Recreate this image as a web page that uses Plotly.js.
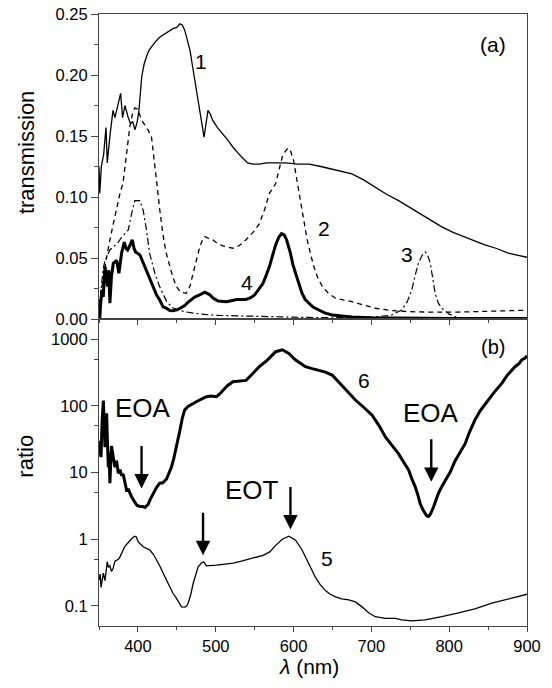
<!DOCTYPE html>
<html>
<head>
<meta charset="utf-8">
<script src="https://cdn.plot.ly/plotly-3.0.1.min.js"></script>
<style>html,body{margin:0;padding:0;background:#fff;}#chart{width:552px;height:688px;}</style>
</head>
<body>
<div id="chart"></div>
<script>
// ---- Panel (a): transmission ----
const wl1 = [350,351,353,356,359,360.6,364,368,370.5,372.6,374.8,377.8,380.3,383.3,387.6,390.6,393.2,396.2,399.2,401.3,405,408,411,414,417.5,422,428,433,437,441,445,450,454,457,460,463,467,470,473,477,480,483,485,487.5,490,493,496,502,509,515,522,530,541,548,556,565,577,590,605,620,635,645,660,675,690,705,720,735,748,760,775,790,805,820,833,845,860,876,890,900];
const trans1 = [0.125,0.103,0.125,0.135,0.157,0.128,0.150,0.171,0.165,0.171,0.176,0.185,0.165,0.175,0.165,0.160,0.162,0.155,0.162,0.171,0.199,0.209,0.215,0.220,0.223,0.227,0.231,0.233,0.235,0.236,0.238,0.239,0.242,0.241,0.237,0.230,0.220,0.208,0.196,0.182,0.171,0.157,0.149,0.160,0.171,0.168,0.163,0.157,0.152,0.147,0.141,0.135,0.128,0.127,0.127,0.128,0.128,0.128,0.127,0.127,0.125,0.1235,0.121,0.119,0.114,0.108,0.102,0.097,0.092,0.087,0.081,0.0757,0.071,0.067,0.064,0.061,0.058,0.054,0.052,0.0506];

const wl2 = [350,353,356,359,362,365,368.4,372.7,377,381,385.5,389.7,393,396,400,404.7,409,413,417.5,419.6,424,428,432,436,441,445,449.6,455,462,467,471,475,479.5,483,486,491,496,502,509,515,522,530,539,548,556,563,569,577,581,585.5,590,593,596,600,604,608.8,613,617.5,622,626,631,637,645,654,665,675,690,705,725,748,770,790.6,810,833,855,876,900];
const trans2 = [0.012,0.022,0.035,0.048,0.059,0.068,0.078,0.092,0.103,0.112,0.1385,0.158,0.168,0.173,0.172,0.163,0.159,0.155,0.149,0.1385,0.113,0.090,0.070,0.055,0.043,0.034,0.0265,0.022,0.021,0.027,0.0377,0.048,0.059,0.065,0.0675,0.066,0.065,0.062,0.060,0.059,0.058,0.060,0.065,0.071,0.078,0.090,0.103,0.111,0.122,0.133,0.138,0.140,0.138,0.130,0.115,0.0975,0.081,0.065,0.053,0.043,0.034,0.0265,0.021,0.017,0.0155,0.0142,0.0115,0.0088,0.007,0.006,0.0057,0.0055,0.0057,0.006,0.0065,0.0068,0.0072];

const wl3 = [350,352,355,357.7,364,370,374.8,379,383,387.6,392,396,402.6,406.8,411,415,421.8,428,437,445,460,480,500,550,600,650,700,725,739,746,752,756,760.6,765,769,772,775.6,779,782,786,790.6,800,812,850,900];
const trans3 = [0.005,0.02,0.04,0.048,0.0566,0.060,0.063,0.067,0.070,0.073,0.0866,0.097,0.097,0.089,0.073,0.054,0.0375,0.0265,0.0142,0.009,0.006,0.004,0.003,0.002,0.0015,0.001,0.0015,0.003,0.0074,0.014,0.024,0.035,0.046,0.052,0.055,0.053,0.046,0.033,0.021,0.013,0.0088,0.004,0.001,0.0005,0.0005];

const wl4 = [350,351,352,354,355.5,357.7,359.5,361,362.5,364,366,368.4,372.7,375.6,379,382.5,384.5,386.8,389.5,392.7,395,397,402.6,409,415.4,420,424,428,432.4,437,441,445,450,455,460,465,473,480,486,492,497,503,509,514,520,527,533,539,545,550,555,560.6,565,569,573,577,581,584.6,588,591,596,599,602.6,607,611,615,619.6,625,632.5,640,649.6,665,675,700,750,800,900];
const trans4 = [0.0,0.0,0.012,0.024,0.018,0.043,0.035,0.0265,0.040,0.013,0.035,0.0456,0.048,0.0375,0.054,0.063,0.058,0.0566,0.060,0.065,0.058,0.055,0.0525,0.043,0.032,0.0265,0.0197,0.0156,0.010,0.0087,0.007,0.0068,0.0075,0.009,0.011,0.014,0.018,0.020,0.022,0.020,0.017,0.0148,0.0142,0.0142,0.015,0.016,0.016,0.016,0.0175,0.0197,0.024,0.029,0.036,0.043,0.052,0.0607,0.067,0.070,0.069,0.065,0.054,0.045,0.0375,0.028,0.021,0.016,0.0128,0.0098,0.0074,0.005,0.0033,0.002,0.0016,0.001,0.0007,0.0005,0.0005];

// ---- Panel (b): ratio ----
const wl5 = [350,351.5,352.6,354,355.6,357.7,359,360.6,362,364,366,368,370.5,372.6,375,376.9,380,383,386,389.7,393,396,398,400.4,403,406.8,411,415.4,420,424,428,432.5,437,441,445,449.6,453,456,460.3,462.5,464.5,468,471,474,477.4,481.7,484.6,488,495,501,512,522.4,533,543.8,552,560.9,569.4,577,585.5,594,602.6,611,619.6,628,634,641,647,654,662,671,679.5,688,696.5,705,718,731,739,752,769,790.6,812,833,854.7,876,900];
const ratio5 = [0.244,0.30,0.19,0.26,0.31,0.24,0.33,0.46,0.38,0.40,0.33,0.36,0.47,0.49,0.50,0.545,0.65,0.77,0.85,0.97,1.05,1.11,1.08,0.91,0.85,0.77,0.73,0.69,0.59,0.49,0.40,0.31,0.24,0.19,0.155,0.13,0.108,0.097,0.096,0.10,0.11,0.15,0.217,0.29,0.385,0.44,0.46,0.40,0.40,0.41,0.425,0.44,0.47,0.51,0.54,0.575,0.646,0.81,1.0,1.11,0.97,0.69,0.43,0.27,0.21,0.17,0.15,0.137,0.128,0.123,0.115,0.097,0.079,0.069,0.065,0.065,0.0617,0.06,0.062,0.069,0.079,0.0906,0.11,0.126,0.15];

const wl6 = [350,352.6,354,355.6,357,357.7,359,359.8,361,362,363,364,366,368,370.5,372.6,374.8,377,379,381,383,385.5,388,392,396,399,402.6,406,409,413,416,419.6,424,428,432,436.8,443,446,449.6,452,454,457,460,464.5,470,475,481,488,494,501,505,509.4,515,522,530,539,547,556,566,577,585.5,594,602.6,609,615.4,624,632.5,641,649.6,656,662.4,671,679.5,690,701,710,718,727,735,742,748,752,756.4,760,762.8,766,769,771,773.5,776,780,783,786,790,795,801,807.7,814,820.5,826,833,840,850,858,867.6,875,884.6,890,893,897.6,900];
const ratio6 = [30,17,60,120,40,24,60,77,25,12,20,6.9,25,19,12,15,9.7,11,9,9.5,7.5,5.4,5.5,4.3,3.6,3.2,3.1,3.1,3.0,3.3,4.0,4.85,6,6.9,7,8,12,16,24,33,43,65,86,98,105,115,125,137,140,137,150,172,200,229,235,240,300,385,480,646,690,610,484,430,385,360,343,320,288,240,193,155,122,95,72,50,34,25,19,14,10.8,8,6.1,4.5,3.4,2.8,2.4,2.25,2.2,2.4,3.06,3.8,4.85,6,7.7,10,15,20,27,40,61,85,122,160,216,290,385,430,484,520,560];

// ---- Labels and arrows ----
const labA_text = ['1','2','3','4','(a)'];
const labA_x = [480.8,638.7,745.8,540.4,856];
const labA_y = [0.211,0.0738,0.053,0.030,0.2254];
const labB_text = ['EOA','EOA','EOT','6','5','(b)'];
const labB_x = [406,777,546,691,643,856];
const labB_y = [94,77.6,5.45,243,0.52,759];
const labB_size = [26,26,26,21,21,20];
const arrowX = [404.7,483.7,596,777];
const arrowTip = [5.78,0.578,1.40,7.26];

const yTicksA = [0,0.05,0.10,0.15,0.20,0.25];
const yTicksB = [0.1,1,10,100,1000];
const yTicksBText = ['0.1','1','10','100','1000'];
const yMinorB = [0.05,0.5,5,50,500];

const FONT = '"Liberation Sans", Arial, Helvetica, sans-serif';
const AX = '#444';

const traces = [
  {x: wl1, y: trans1, xaxis:'x', yaxis:'y', mode:'lines', line:{color:'#000', width:1.3}},
  {x: wl2, y: trans2, xaxis:'x', yaxis:'y', mode:'lines', line:{color:'#000', width:1.3, dash:'5px,4px'}},
  {x: wl3, y: trans3, xaxis:'x', yaxis:'y', mode:'lines', line:{color:'#000', width:1.2, dash:'7px,3px,2px,3px'}},
  {x: wl4, y: trans4, xaxis:'x', yaxis:'y', mode:'lines', line:{color:'#000', width:3}},
  {x: wl5, y: ratio5, xaxis:'x2', yaxis:'y2', mode:'lines', line:{color:'#000', width:1.3}},
  {x: wl6, y: ratio6, xaxis:'x2', yaxis:'y2', mode:'lines', line:{color:'#000', width:3}}
];

const ann = [];
labA_text.forEach((t,i)=>ann.push({xref:'x', yref:'y', x:labA_x[i], y:labA_y[i], text:t, showarrow:false, xanchor:'center', yanchor:'middle', font:{family:FONT, size:21, color:'#000'}}));
labB_text.forEach((t,i)=>ann.push({xref:'x2', yref:'y2', x:labB_x[i], y:Math.log10(labB_y[i]), text:t, showarrow:false, xanchor:'center', yanchor:'middle', font:{family:FONT, size:labB_size[i], color:'#000'}}));
arrowX.forEach((x,i)=>ann.push({xref:'x2', yref:'y2', x:x, y:Math.log10(arrowTip[i]), text:'', showarrow:true, ax:0, ay:-44, arrowhead:2, arrowsize:1.2, arrowwidth:2.4, arrowcolor:'#000', standoff:0}));
ann.push({xref:'paper', yref:'paper', x:-0.171, y:0.774, text:'transmission', textangle:-90, showarrow:false, xanchor:'center', yanchor:'middle', font:{family:FONT, size:22, color:'#000'}});
ann.push({xref:'paper', yref:'paper', x:-0.171, y:0.278, text:'ratio', textangle:-90, showarrow:false, xanchor:'center', yanchor:'middle', font:{family:FONT, size:22, color:'#000'}});
ann.push({xref:'paper', yref:'paper', x:0.49, y:-0.066, text:'<i>λ</i> (nm)', showarrow:false, xanchor:'center', yanchor:'middle', font:{family:FONT, size:21, color:'#000'}});

const split = 307/612;
const xCommon = {range:[350,900], tick0:0, dtick:100, ticks:'outside', ticklen:5, tickwidth:1, tickcolor:AX,
  showline:true, linecolor:AX, linewidth:1, mirror:true, showgrid:false, zeroline:false,
  minor:{dtick:50, tick0:0, ticks:'outside', ticklen:3, tickcolor:AX, showgrid:false},
  tickfont:{family:FONT, size:16.5, color:'#000'}};

const layout = {
  width:552, height:688, margin:{l:99, r:25, t:14, b:62},
  paper_bgcolor:'#fff', plot_bgcolor:'#fff', showlegend:false,
  font:{family:FONT, color:'#000'},
  xaxis: Object.assign({}, xCommon, {anchor:'y', domain:[0,1], showticklabels:false}),
  yaxis: {domain:[split,1], anchor:'x', range:[0,0.25], tickmode:'array', tickvals:yTicksA, tickformat:'.2f',
    ticks:'outside', ticklen:7, tickwidth:1, tickcolor:AX, showline:true, linecolor:AX, linewidth:1, mirror:true,
    showgrid:false, zeroline:false, minor:{dtick:0.025, tick0:0, ticks:'outside', ticklen:4, tickcolor:AX, showgrid:false},
    tickfont:{family:FONT, size:16.5, color:'#000'}},
  xaxis2: Object.assign({}, xCommon, {anchor:'y2', domain:[0,1], showticklabels:true}),
  yaxis2: {domain:[0,split], anchor:'x2', type:'log', range:[-1.3,3.3], tickmode:'array', tickvals:yTicksB, ticktext:yTicksBText,
    ticks:'outside', ticklen:7, tickwidth:1, tickcolor:AX, showline:true, linecolor:AX, linewidth:1, mirror:true,
    showgrid:false, zeroline:false, minor:{tickmode:'array', tickvals:yMinorB, ticks:'outside', ticklen:4, tickcolor:AX, showgrid:false},
    tickfont:{family:FONT, size:16.5, color:'#000'}},
  annotations: ann
};

Plotly.newPlot('chart', traces, layout, {staticPlot:true, displayModeBar:false});
</script>
</body>
</html>
